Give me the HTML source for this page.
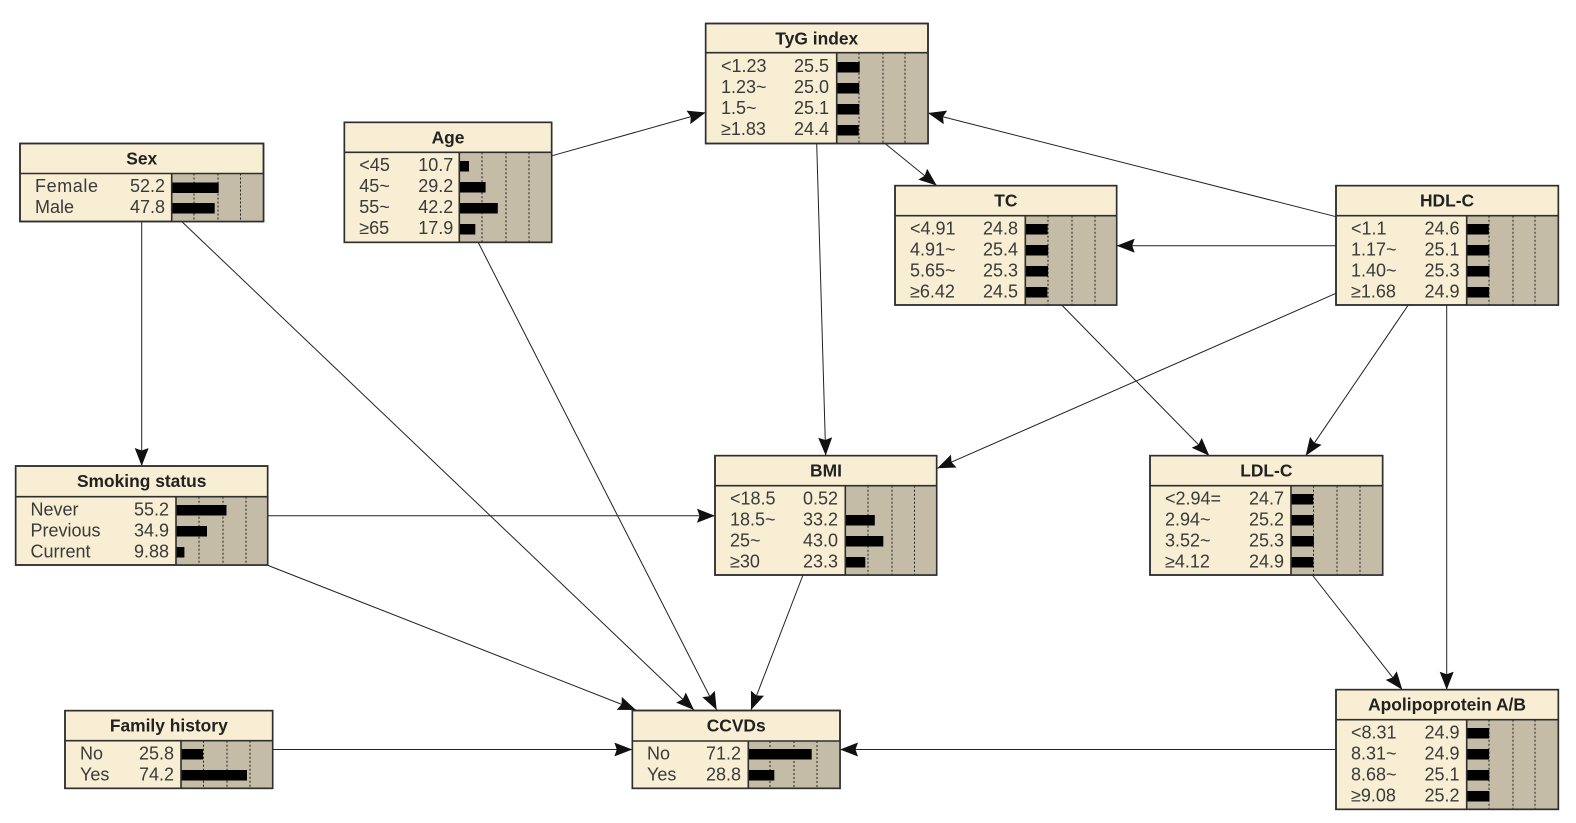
<!DOCTYPE html>
<html><head><meta charset="utf-8"><style>
html,body{margin:0;padding:0;background:#fff;width:1576px;height:823px;overflow:hidden}
svg{display:block;filter:blur(0.35px)}
text{font-family:"Liberation Sans",Arial,sans-serif;font-size:18px;fill:#3a3a3a;transform:translateY(-1px)}
text.h{font-size:17.4px;font-weight:bold;text-anchor:middle;fill:#222}
text.v{text-anchor:end}
.f{fill:#f8eed3;stroke:#2e2e2e;stroke-width:1.6}
.g{fill:#c4bca6}
.l{stroke:#2e2e2e;stroke-width:1.6;fill:none}
.d{stroke:#222;stroke-width:1;stroke-dasharray:2 2;fill:none}
.e{stroke:#222;stroke-width:1;fill:none;marker-end:url(#a)}
</style></head><body>
<svg width="1576" height="823" viewBox="0 0 1576 823" xmlns="http://www.w3.org/2000/svg">
<defs><marker id="a" markerUnits="userSpaceOnUse" markerWidth="19" markerHeight="15" refX="18" refY="7" orient="auto"><path d="M0 0L18 7L0 14L2.5 7Z" fill="#111"/></marker></defs>
<rect width="1576" height="823" fill="#fff"/>

<!-- edges -->
<path class="e" d="M141.7 221.5L141.7 466"/>
<path class="e" d="M181.7 221.5L694 710"/>
<path class="e" d="M552.3 155.7L705.7 112.5"/>
<path class="e" d="M478 242L716.7 710"/>
<path class="e" d="M816.7 143.5L825.7 455.5"/>
<path class="e" d="M885 143.5L936.7 185.5"/>
<path class="e" d="M1336 216.7L928 113"/>
<path class="e" d="M1336 245.7L1116.7 245.7"/>
<path class="e" d="M1336 293.3L937.3 468.3"/>
<path class="e" d="M1408.3 305L1305.7 455.7"/>
<path class="e" d="M1446.7 305L1446.7 689.7"/>
<path class="e" d="M1061.7 305L1209.3 455.7"/>
<path class="e" d="M267.7 515.7L715 515.7"/>
<path class="e" d="M267 565L636 710"/>
<path class="e" d="M803 575L751 710"/>
<path class="e" d="M1312.3 575L1402.3 689.7"/>
<path class="e" d="M272.7 749.5L632.3 749.5"/>
<path class="e" d="M1336 749.5L840 749.5"/>

<!-- Sex -->
<g>
<rect class="f" x="20" y="143.5" width="243.5" height="78"/>
<rect class="g" x="171.7" y="173.5" width="91.8" height="48"/>
<path class="d" d="M194 173.5V221.5M218 173.5V221.5M240.5 173.5V221.5"/>
<rect x="171.7" y="182.5" width="47" height="10.5"/><rect x="171.7" y="203" width="43" height="10.5"/>
<path class="l" d="M20 173.5H263.5M171.7 173.5V221.5"/>
<rect class="l" x="20" y="143.5" width="243.5" height="78"/>
<text class="h" x="141.7" y="165.5">Sex</text>
<text x="35" y="193" textLength="63">Female</text><text class="v" x="165" y="193">52.2</text>
<text x="35" y="214">Male</text><text class="v" x="165" y="214">47.8</text>
</g>

<!-- Age -->
<g>
<rect class="f" x="344.3" y="122.3" width="207.4" height="120"/>
<rect class="g" x="459.3" y="152.3" width="92.4" height="90"/>
<path class="d" d="M482 152.3V242.3M506 152.3V242.3M529 152.3V242.3"/>
<rect x="459.3" y="161" width="9.7" height="10.5"/><rect x="459.3" y="182" width="26.3" height="10.5"/><rect x="459.3" y="203" width="38.5" height="10.5"/><rect x="459.3" y="224" width="16" height="10.5"/>
<path class="l" d="M344.3 152.3H551.7M459.3 152.3V242.3"/>
<rect class="l" x="344.3" y="122.3" width="207.4" height="120"/>
<text class="h" x="448" y="144.3">Age</text>
<text x="359.3" y="172">&lt;45</text><text class="v" x="453.3" y="172">10.7</text>
<text x="359.3" y="193">45~</text><text class="v" x="453.3" y="193">29.2</text>
<text x="359.3" y="214">55~</text><text class="v" x="453.3" y="214">42.2</text>
<text x="359.3" y="235">≥65</text><text class="v" x="453.3" y="235">17.9</text>
</g>

<!-- TyG -->
<g>
<rect class="f" x="705.7" y="23.5" width="222.3" height="120"/>
<rect class="g" x="836.7" y="52.7" width="91.3" height="90.8"/>
<path class="d" d="M859 52.7V143.5M883 52.7V143.5M905 52.7V143.5"/>
<rect x="836.7" y="62" width="23" height="10.5"/><rect x="836.7" y="83" width="22.5" height="10.5"/><rect x="836.7" y="104" width="22.6" height="10.5"/><rect x="836.7" y="125" width="22" height="10.5"/>
<path class="l" d="M705.7 52.7H928M836.7 52.7V143.5"/>
<rect class="l" x="705.7" y="23.5" width="222.3" height="120"/>
<text class="h" x="816.8" y="45.5">TyG index</text>
<text x="721" y="73">&lt;1.23</text><text class="v" x="829" y="73">25.5</text>
<text x="721" y="94">1.23~</text><text class="v" x="829" y="94">25.0</text>
<text x="721" y="115">1.5~</text><text class="v" x="829" y="115">25.1</text>
<text x="721" y="136">≥1.83</text><text class="v" x="829" y="136">24.4</text>
</g>

<!-- TC -->
<g>
<rect class="f" x="895" y="185.7" width="221.7" height="119.3"/>
<rect class="g" x="1025.3" y="215.7" width="91.4" height="89.3"/>
<path class="d" d="M1048 215.7V305M1072 215.7V305M1095 215.7V305"/>
<rect x="1025.3" y="224" width="22.3" height="10.5"/><rect x="1025.3" y="245" width="22.9" height="10.5"/><rect x="1025.3" y="266" width="22.8" height="10.5"/><rect x="1025.3" y="287" width="22" height="10.5"/>
<path class="l" d="M895 215.7H1116.7M1025.3 215.7V305"/>
<rect class="l" x="895" y="185.7" width="221.7" height="119.3"/>
<text class="h" x="1005.8" y="207.5">TC</text>
<text x="910" y="235.5">&lt;4.91</text><text class="v" x="1018" y="235.5">24.8</text>
<text x="910" y="256.5">4.91~</text><text class="v" x="1018" y="256.5">25.4</text>
<text x="910" y="277.5">5.65~</text><text class="v" x="1018" y="277.5">25.3</text>
<text x="910" y="298.5">≥6.42</text><text class="v" x="1018" y="298.5">24.5</text>
</g>

<!-- HDL-C -->
<g>
<rect class="f" x="1336" y="185.7" width="222.3" height="119.3"/>
<rect class="g" x="1466.7" y="215.7" width="91.6" height="89.3"/>
<path class="d" d="M1489 215.7V305M1513 215.7V305M1535 215.7V305"/>
<rect x="1466.7" y="224" width="22.1" height="10.5"/><rect x="1466.7" y="245" width="22.6" height="10.5"/><rect x="1466.7" y="266" width="22.8" height="10.5"/><rect x="1466.7" y="287" width="22.4" height="10.5"/>
<path class="l" d="M1336 215.7H1558.3M1466.7 215.7V305"/>
<rect class="l" x="1336" y="185.7" width="222.3" height="119.3"/>
<text class="h" x="1447" y="207.5">HDL-C</text>
<text x="1351" y="235.5">&lt;1.1</text><text class="v" x="1459.5" y="235.5">24.6</text>
<text x="1351" y="256.5">1.17~</text><text class="v" x="1459.5" y="256.5">25.1</text>
<text x="1351" y="277.5">1.40~</text><text class="v" x="1459.5" y="277.5">25.3</text>
<text x="1351" y="298.5">≥1.68</text><text class="v" x="1459.5" y="298.5">24.9</text>
</g>

<!-- Smoking status -->
<g>
<rect class="f" x="15.7" y="466" width="252" height="99"/>
<rect class="g" x="176" y="496.7" width="91.7" height="68.3"/>
<path class="d" d="M199 496.7V565M223 496.7V565M246 496.7V565"/>
<rect x="176" y="505" width="50.5" height="10.5"/><rect x="176" y="526" width="31" height="10.5"/><rect x="176" y="547" width="8.4" height="10.5"/>
<path class="l" d="M15.7 496.7H267.7M176 496.7V565"/>
<rect class="l" x="15.7" y="466" width="252" height="99"/>
<text class="h" x="141.7" y="488">Smoking status</text>
<text x="30.5" y="516.5">Never</text><text class="v" x="169" y="516.5">55.2</text>
<text x="30.5" y="537.5">Previous</text><text class="v" x="169" y="537.5">34.9</text>
<text x="30.5" y="558.5">Current</text><text class="v" x="169" y="558.5">9.88</text>
</g>

<!-- BMI -->
<g>
<rect class="f" x="715" y="455.7" width="221.7" height="119.3"/>
<rect class="g" x="845.3" y="485.7" width="91.4" height="89.3"/>
<path class="d" d="M868 485.7V575M892 485.7V575M914.5 485.7V575"/>
<rect x="845.3" y="494" width="0.5" height="10.5"/><rect x="845.3" y="515" width="29.5" height="10.5"/><rect x="845.3" y="536" width="38" height="10.5"/><rect x="845.3" y="557" width="20" height="10.5"/>
<path class="l" d="M715 485.7H936.7M845.3 485.7V575"/>
<rect class="l" x="715" y="455.7" width="221.7" height="119.3"/>
<text class="h" x="826" y="477.5">BMI</text>
<text x="730" y="505.5">&lt;18.5</text><text class="v" x="838" y="505.5">0.52</text>
<text x="730" y="526.5">18.5~</text><text class="v" x="838" y="526.5">33.2</text>
<text x="730" y="547.5">25~</text><text class="v" x="838" y="547.5">43.0</text>
<text x="730" y="568.5">≥30</text><text class="v" x="838" y="568.5">23.3</text>
</g>

<!-- LDL-C -->
<g>
<rect class="f" x="1150" y="455.7" width="232.7" height="119.3"/>
<rect class="g" x="1291" y="485.7" width="91.7" height="89.3"/>
<path class="d" d="M1313.5 485.7V575M1337 485.7V575M1360 485.7V575"/>
<rect x="1291" y="494" width="22.2" height="10.5"/><rect x="1291" y="515" width="22.7" height="10.5"/><rect x="1291" y="536" width="22.8" height="10.5"/><rect x="1291" y="557" width="22.4" height="10.5"/>
<path class="l" d="M1150 485.7H1382.7M1291 485.7V575"/>
<rect class="l" x="1150" y="455.7" width="232.7" height="119.3"/>
<text class="h" x="1266.3" y="477.5">LDL-C</text>
<text x="1165" y="505.5">&lt;2.94=</text><text class="v" x="1284" y="505.5">24.7</text>
<text x="1165" y="526.5">2.94~</text><text class="v" x="1284" y="526.5">25.2</text>
<text x="1165" y="547.5">3.52~</text><text class="v" x="1284" y="547.5">25.3</text>
<text x="1165" y="568.5">≥4.12</text><text class="v" x="1284" y="568.5">24.9</text>
</g>

<!-- Apolipoprotein A/B -->
<g>
<rect class="f" x="1336" y="689.7" width="222.3" height="119.6"/>
<rect class="g" x="1466.7" y="719.7" width="91.6" height="89.6"/>
<path class="d" d="M1489 719.7V809.3M1513 719.7V809.3M1535 719.7V809.3"/>
<rect x="1466.7" y="728" width="22.4" height="10.5"/><rect x="1466.7" y="749" width="22.4" height="10.5"/><rect x="1466.7" y="770" width="22.6" height="10.5"/><rect x="1466.7" y="791" width="22.7" height="10.5"/>
<path class="l" d="M1336 719.7H1558.3M1466.7 719.7V809.3"/>
<rect class="l" x="1336" y="689.7" width="222.3" height="119.6"/>
<text class="h" x="1447" y="711.5">Apolipoprotein A/B</text>
<text x="1351" y="739.5">&lt;8.31</text><text class="v" x="1459.5" y="739.5">24.9</text>
<text x="1351" y="760.5">8.31~</text><text class="v" x="1459.5" y="760.5">24.9</text>
<text x="1351" y="781.5">8.68~</text><text class="v" x="1459.5" y="781.5">25.1</text>
<text x="1351" y="802.5">≥9.08</text><text class="v" x="1459.5" y="802.5">25.2</text>
</g>

<!-- Family history -->
<g>
<rect class="f" x="65" y="710.7" width="207.7" height="77.6"/>
<rect class="g" x="181" y="740.7" width="91.7" height="47.6"/>
<path class="d" d="M203.5 740.7V788.3M227 740.7V788.3M250 740.7V788.3"/>
<rect x="181" y="749" width="22" height="10.5"/><rect x="181" y="770" width="66" height="10.5"/>
<path class="l" d="M65 740.7H272.7M181 740.7V788.3"/>
<rect class="l" x="65" y="710.7" width="207.7" height="77.6"/>
<text class="h" x="168.8" y="732.5">Family history</text>
<text x="80" y="760.5">No</text><text class="v" x="174" y="760.5">25.8</text>
<text x="80" y="781.5">Yes</text><text class="v" x="174" y="781.5">74.2</text>
</g>

<!-- CCVDs -->
<g>
<rect class="f" x="632.3" y="710.5" width="207.7" height="77.8"/>
<rect class="g" x="748.3" y="741" width="91.7" height="47.3"/>
<path class="d" d="M770 741V788.3M794 741V788.3M817 741V788.3"/>
<rect x="748.3" y="749" width="63.4" height="10.5"/><rect x="748.3" y="770" width="26" height="10.5"/>
<path class="l" d="M632.3 741H840M748.3 741V788.3"/>
<rect class="l" x="632.3" y="710.5" width="207.7" height="77.8"/>
<text class="h" x="736.2" y="732.5">CCVDs</text>
<text x="647" y="760.5">No</text><text class="v" x="741" y="760.5">71.2</text>
<text x="647" y="781.5">Yes</text><text class="v" x="741" y="781.5">28.8</text>
</g>
</svg>
</body></html>
